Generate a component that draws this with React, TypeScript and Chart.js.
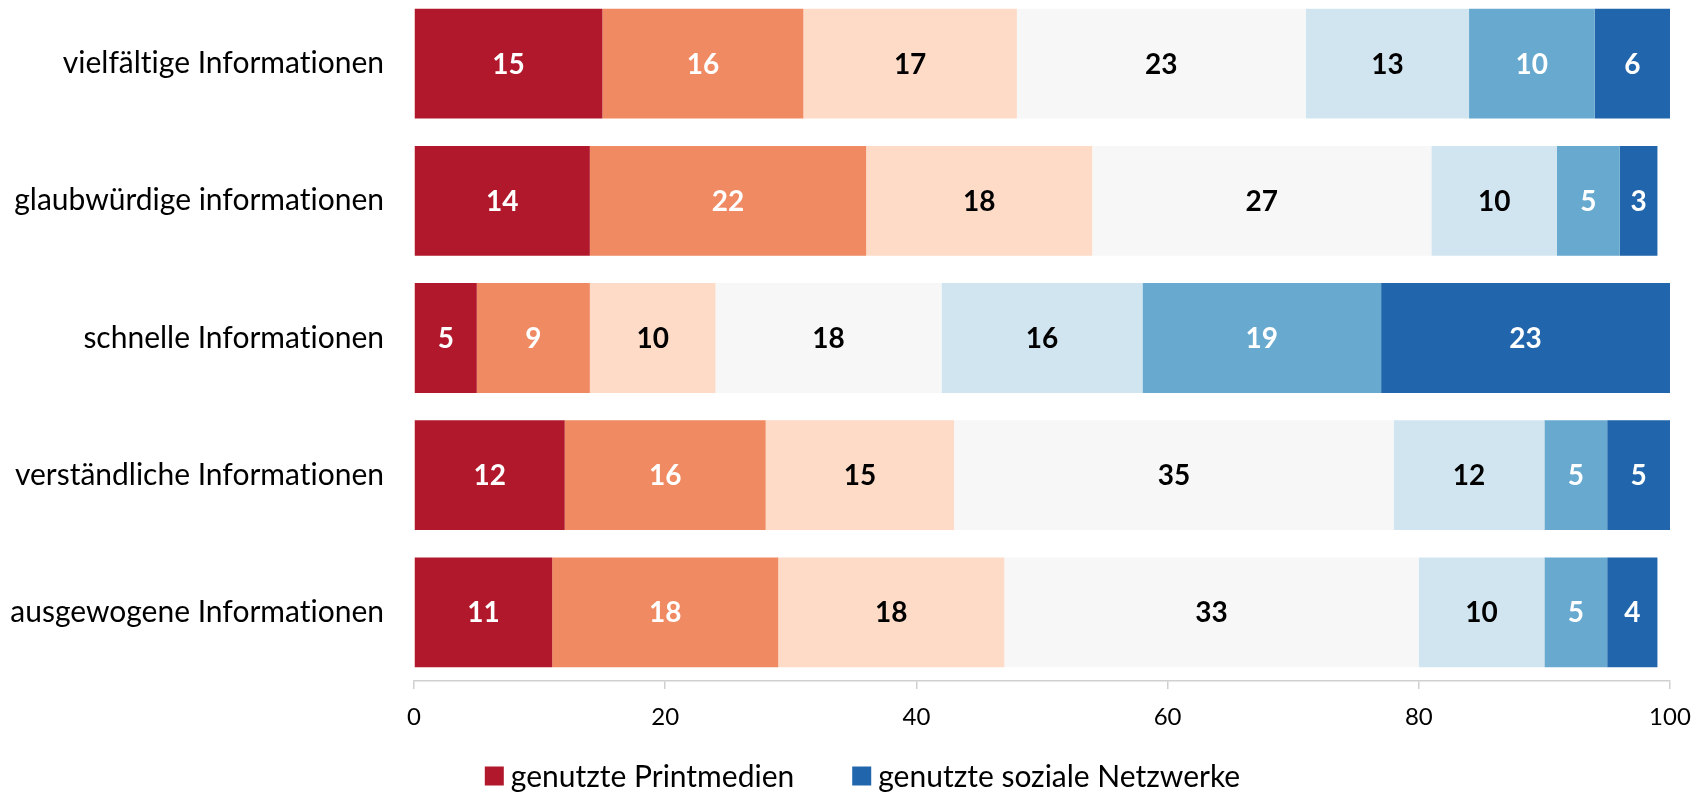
import React, { useEffect, useRef } from "react";
import { Chart, registerables } from "chart.js";

Chart.register(...registerables);

const categories = [
  "vielfältige Informationen",
  "glaubwürdige informationen",
  "schnelle Informationen",
  "verständliche Informationen",
  "ausgewogene Informationen",
];

const seriesNames = [
  "genutzte Printmedien",
  "stufe 2",
  "stufe 3",
  "stufe 4",
  "stufe 5",
  "stufe 6",
  "genutzte soziale Netzwerke",
];

const s1 = [15, 14, 5, 12, 11];
const s2 = [16, 22, 9, 16, 18];
const s3 = [17, 18, 10, 15, 18];
const s4 = [23, 27, 18, 35, 33];
const s5 = [13, 10, 16, 12, 10];
const s6 = [10, 5, 19, 5, 5];
const s7 = [6, 3, 23, 5, 4];

const seriesValues = [s1, s2, s3, s4, s5, s6, s7];

const colors = ["#B2182B", "#EF8A62", "#FDDBC7", "#F7F7F7", "#D1E5F0", "#67A9CF", "#2166AC"];
const labelColors = ["#FFFFFF", "#FFFFFF", "#000000", "#000000", "#000000", "#FFFFFF", "#FFFFFF"];

const legendIndices = [0, 6];

const xTicks = [0, 20, 40, 60, 80, 100];

const FONT = "Lato, 'Open Sans', sans-serif";

const noLigatures = {
  id: "noLigatures",
  beforeDraw(chart: any) {
    const ctx = chart.ctx;
    try {
      ctx.textRendering = "optimizeSpeed";
    } catch (e) {}
  },
};

const valueLabels = {
  id: "valueLabels",
  afterDatasetsDraw(chart: any) {
    const ctx = chart.ctx;
    ctx.save();
    ctx.font = `bold 28px ${FONT}`;
    ctx.textAlign = "center";
    ctx.textBaseline = "middle";
    chart.data.datasets.forEach((ds: any, di: number) => {
      const meta = chart.getDatasetMeta(di);
      meta.data.forEach((bar: any, i: number) => {
        const v = ds.data[i];
        const cx = (bar.x + bar.base) / 2;
        ctx.fillStyle = labelColors[di];
        ctx.fillText(String(v), cx, bar.y + 1);
      });
    });
    ctx.restore();
  },
};

const customLegend = {
  id: "customLegend",
  afterDraw(chart: any) {
    const ctx = chart.ctx;
    ctx.save();
    ctx.font = `30px ${FONT}`;
    ctx.textBaseline = "middle";
    ctx.textAlign = "left";
    const box = 19;
    const gapText = 7;
    const gapItems = 58;
    const items = legendIndices.map((i) => ({
      text: chart.data.datasets[i].label,
      color: chart.data.datasets[i].backgroundColor,
      w: box + gapText + ctx.measureText(chart.data.datasets[i].label).width,
    }));
    const total = items.reduce((a, it) => a + it.w, 0) + gapItems * (items.length - 1);
    let x = chart.width / 2 + 10 - total / 2;
    const cy = 781;
    items.forEach((it) => {
      ctx.fillStyle = it.color;
      ctx.fillRect(x, cy - box / 2, box, box);
      ctx.fillStyle = "#000";
      ctx.fillText(it.text, x + box + gapText, cy + 1);
      x += it.w + gapItems;
    });
    ctx.restore();
  },
};

export default function App() {
  const ref = useRef<HTMLCanvasElement>(null);
  useEffect(() => {
    if (!ref.current) return;
    const chart = new Chart(ref.current, {
      type: "bar",
      data: {
        labels: categories,
        datasets: seriesValues.map((vals, i) => ({
          label: seriesNames[i],
          data: vals,
          backgroundColor: colors[i],
          borderWidth: 0,
          barPercentage: 0.8,
          categoryPercentage: 1,
        })),
      },
      options: {
        indexAxis: "y",
        animation: false,
        responsive: false,
        maintainAspectRatio: false,
        layout: { padding: { left: 0, right: 35, top: 0, bottom: 62 } },
        scales: {
          x: {
            stacked: true,
            min: 0,
            max: 100,
            afterBuildTicks: (axis: any) => {
              axis.ticks = xTicks.map((v) => ({ value: v }));
            },
            afterFit: (scale: any) => {
              scale.height = 50;
            },
            border: { display: true, color: "#D0D0D0", width: 1.5 },
            grid: { drawOnChartArea: false, drawTicks: true, tickLength: 8, color: "#D0D0D0", lineWidth: 1.5 },
            ticks: { font: { family: FONT, size: 24 }, color: "#000", padding: 14, maxRotation: 0 },
          },
          y: {
            stacked: true,
            border: { display: false },
            grid: { display: false, drawTicks: false },
            ticks: { font: { family: FONT, size: 30 }, color: "#000", padding: 30 },
            afterFit: (scale: any) => {
              scale.width = 414;
              scale.paddingTop = 0;
              scale.paddingBottom = 0;
            },
          },
        },
        plugins: {
          tooltip: { enabled: false },
          legend: { display: false },
        },
      },
      plugins: [noLigatures, valueLabels, customLegend],
    });
    return () => chart.destroy();
  }, []);
  return (
    <div style={{ position: "absolute", left: 0, top: -5, width: 1705, height: 798 }}>
      <canvas ref={ref} width={1705} height={798} style={{ width: 1705, height: 798 }} />
    </div>
  );
}
